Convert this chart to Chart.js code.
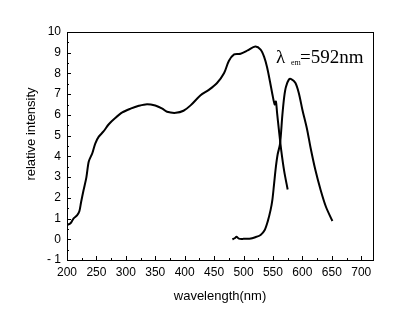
<!DOCTYPE html>
<html>
<head>
<meta charset="utf-8">
<script src="https://cdn.jsdelivr.net/npm/chart.js@4.4.1/dist/chart.umd.min.js"></script>
<style>
  html, body { margin: 0; padding: 0; background: #fff; }
  #wrap { width: 396px; height: 328px; }
</style>
</head>
<body>
<div id="wrap"><canvas id="spectraChart" width="396" height="328"></canvas></div>
<script>
// excitation spectrum (monitored at 592 nm)
const exWavelength = [200, 206, 211, 217, 221, 224, 228, 233, 237, 243, 248, 254, 262, 271, 282, 294, 308, 322, 336, 350,
    362, 370, 385, 398, 410, 427, 441, 455, 467, 475, 484, 495, 507, 520, 529, 535, 540, 545, 549, 553, 555, 557, 560, 564, 569, 575];
const exIntensity = [0.69, 0.77, 1.0, 1.15, 1.35, 1.8, 2.35, 3.0, 3.75, 4.15, 4.62, 4.95, 5.2, 5.55, 5.85, 6.12, 6.3, 6.44, 6.52, 6.45,
    6.3, 6.15, 6.1, 6.2, 6.46, 6.95, 7.21, 7.54, 8.02, 8.6, 8.92, 8.95, 9.11, 9.3, 9.15, 8.8, 8.3, 7.6, 7.0, 6.5, 6.65, 6.1, 5.3, 4.3, 3.3, 2.4];

// emission spectrum
const emWavelength = [481, 485, 488, 492, 500, 510, 520, 529, 536, 541, 546, 549, 552, 555, 558, 562, 566, 569, 572, 577,
    581, 588, 594, 600, 608, 614, 622, 631, 640, 651];
const emIntensity = [0.0, 0.05, 0.12, 0.03, 0.02, 0.03, 0.1, 0.21, 0.45, 0.85, 1.42, 1.9, 2.7, 3.5, 4.1, 4.6, 6.0, 6.85, 7.35, 7.7,
    7.73, 7.55, 7.05, 6.25, 5.3, 4.4, 3.35, 2.38, 1.57, 0.88];

const xTitle = 'wavelength(nm)';
const yTitle = 'relative intensity';

const sansFont = "'Liberation Sans', Arial, sans-serif";

function toPoints(xs, ys) {
    return xs.map((x, i) => ({ x: x, y: ys[i] }));
}

// box, inward ticks, axis titles and the lambda label
const framePlugin = {
    id: 'frame',
    afterDraw(chart) {
        const ctx = chart.ctx;
        const area = chart.chartArea;
        const xScale = chart.scales.x;
        const yScale = chart.scales.y;
        ctx.save();
        ctx.strokeStyle = '#000';
        ctx.lineWidth = 1;
        ctx.strokeRect(Math.round(area.left) + 0.5, Math.round(area.top) + 0.5,
            Math.round(area.right - area.left), Math.round(area.bottom - area.top));

        ctx.beginPath();
        for (let v = 200; v <= 700; v += 25) {
            const px = Math.round(xScale.getPixelForValue(v)) + 0.5;
            const len = v % 50 === 0 ? 4 : 2;
            ctx.moveTo(px, area.bottom);
            ctx.lineTo(px, area.bottom - len);
        }
        for (let v = -1; v <= 10; v += 0.5) {
            const py = Math.round(yScale.getPixelForValue(v)) + 0.5;
            const len = Number.isInteger(v) ? 4 : 2;
            ctx.moveTo(area.left, py);
            ctx.lineTo(area.left + len, py);
        }
        ctx.stroke();

        ctx.fillStyle = '#000';
        ctx.font = '13px ' + sansFont;
        ctx.textAlign = 'center';
        ctx.textBaseline = 'middle';
        ctx.fillText(xTitle, (area.left + area.right) / 2, 296);

        ctx.save();
        ctx.translate(31, 134);
        ctx.rotate(-Math.PI / 2);
        ctx.fillText(yTitle, 0, 0);
        ctx.restore();

        ctx.textAlign = 'left';
        ctx.textBaseline = 'alphabetic';
        ctx.font = '19px "Liberation Serif", "Times New Roman", serif';
        ctx.fillText('\u03bb', 276, 63);
        ctx.font = '8px "Liberation Serif", "Times New Roman", serif';
        ctx.fillText('em', 291, 65);
        ctx.font = '19px "Liberation Serif", "Times New Roman", serif';
        ctx.fillText('=592nm', 300, 63);
        ctx.restore();
    }
};

const ctx = document.getElementById('spectraChart').getContext('2d');
const spectraChart = new Chart(ctx, {
    type: 'scatter',
    data: {
        datasets: [
            {
                label: 'excitation',
                data: toPoints(exWavelength, exIntensity),
                showLine: true,
                borderColor: '#000',
                borderWidth: 2,
                pointRadius: 0,
                tension: 0.3
            },
            {
                label: 'emission',
                data: toPoints(emWavelength, emIntensity),
                showLine: true,
                borderColor: '#000',
                borderWidth: 2,
                pointRadius: 0,
                tension: 0.3
            }
        ]
    },
    options: {
        responsive: false,
        animation: false,
        layout: {
            padding: { top: 32, right: 23, left: 0, bottom: 0 }
        },
        plugins: {
            legend: { display: false },
            tooltip: { enabled: false }
        },
        scales: {
            x: {
                type: 'linear',
                min: 200,
                max: 720,
                grid: { display: false, drawTicks: false },
                border: { display: false },
                ticks: {
                    stepSize: 50,
                    includeBounds: false,
                    padding: 5,
                    color: '#000',
                    font: { family: sansFont, size: 12 },
                    maxRotation: 0
                },
                afterFit(scale) { scale.height = 68; }
            },
            y: {
                type: 'linear',
                min: -1,
                max: 10,
                grid: { display: false, drawTicks: false },
                border: { display: false },
                ticks: {
                    stepSize: 1,
                    padding: 6,
                    color: '#000',
                    font: { family: sansFont, size: 12 },
                    callback: function(value) {
                        return value < 0 ? '- ' + Math.abs(value) : value;
                    }
                },
                afterFit(scale) { scale.width = 67; }
            }
        }
    },
    plugins: [framePlugin]
});
</script>
</body>
</html>
